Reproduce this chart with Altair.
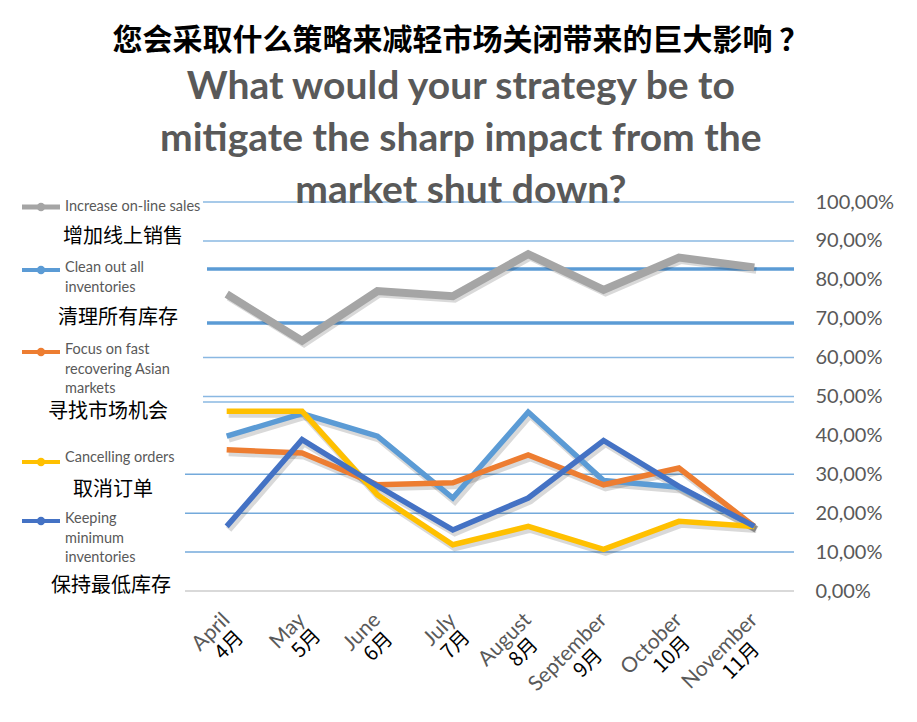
import altair as alt
import pandas as pd

# ---------------- data ----------------
months_en = ["April", "May", "June", "July", "August", "September", "October", "November"]
months_zh = ["4月", "5月", "6月", "7月", "8月", "9月", "10月", "11月"]

series_en = ["Increase on-line sales", "Clean out all inventories",
             "Focus on fast recovering Asian markets", "Cancelling orders",
             "Keeping minimum inventories"]
series_zh = ["增加线上销售", "清理所有库存", "寻找市场机会", "取消订单", "保持最低库存"]
legend_lines = [["Increase on-line sales"],
                ["Clean out all", "inventories"],
                ["Focus on fast", "recovering Asian", "markets"],
                ["Cancelling orders"],
                ["Keeping", "minimum", "inventories"]]

online_sales  = [0.763, 0.643, 0.771, 0.758, 0.866, 0.774, 0.857, 0.832]
clean_out     = [0.398, 0.456, 0.398, 0.239, 0.460, 0.284, 0.267, 0.166]
asian_markets = [0.363, 0.355, 0.273, 0.278, 0.350, 0.273, 0.316, 0.166]
cancelling    = [0.462, 0.462, 0.247, 0.119, 0.166, 0.107, 0.179, 0.166]
keeping_min   = [0.166, 0.389, 0.270, 0.157, 0.239, 0.387, 0.269, 0.166]
series_values = [online_sales, clean_out, asian_markets, cancelling, keeping_min]

y_ticks = [0.0, 0.1, 0.2, 0.3, 0.4, 0.5, 0.6, 0.7, 0.8, 0.9, 1.0]
grid_upper = [1.0, 0.9, 0.6, 0.5, 0.486]
grid_lower = [0.3, 0.2, 0.1]
grid_bold = [0.828, 0.689]

title_zh = "您会采取什么策略来减轻市场关闭带来的巨大影响 ？"
title_en = ["What would your strategy be to", "mitigate the sharp impact from the", "market shut down?"]

# ---------------- style / layout ----------------
colors = ["#a5a5a5", "#5b9bd5", "#ed7d31", "#ffc000", "#4472c4"]
widths = [8, 5.5, 5.5, 5.5, 5.5]
PLOT_W, PLOT_H = 603, 389
LEG_W = 181
sym_y = [5, 68, 150, 260, 319]
eng_y0 = [5, 66, 148, 256, 317]
eng_step = 19.5
zh_y = [35, 116, 210, 288, 384]
zh_cx = [115, 110, 100, 105, 103]

XFS = 21
ZFS = 20


def est_width(s, fs):
    w = 0.0
    for ch in s:
        if ch in "ilj":
            w += 0.24
        elif ch in "frt":
            w += 0.36
        elif ch in "mw":
            w += 0.82
        elif ch.isupper():
            w += 0.68
        else:
            w += 0.54
    return w * fs


rows = []
for name, vals in zip(series_en, series_values):
    for m, v in zip(months_en, vals):
        rows.append({"series": name, "month": m, "value": v})
df = pd.DataFrame(rows)

x_enc = alt.X("month:N", scale=alt.Scale(type="point", domain=months_en, padding=0.5), axis=None)
y_scale = alt.Scale(domain=[0, 1], nice=False, zero=True)
yax = alt.Axis(orient="right", values=y_ticks,
               labelExpr="replace(format(datum.value, '.2%'), '.', ',')",
               labelFont="Lato", labelFontSize=20, labelColor="#595959",
               labelPadding=23, ticks=False, domain=False, grid=False,
               title=None, labelAlign="left", labelBaseline="middle")


def Y(field):
    return alt.Y(field, scale=y_scale, axis=yax)


layers = []
# gridlines
layers.append(alt.Chart(pd.DataFrame({"v": grid_upper})).mark_rule(color="#8ab8e2", strokeWidth=1.5).encode(
    y=Y("v:Q"), x=alt.value(14), x2=alt.value(PLOT_W + 2)))
layers.append(alt.Chart(pd.DataFrame({"v": grid_lower})).mark_rule(color="#74aadb", strokeWidth=1.5).encode(
    y=Y("v:Q"), x=alt.value(-4), x2=alt.value(PLOT_W + 2)))
layers.append(alt.Chart(pd.DataFrame({"v": grid_bold})).mark_rule(color="#5b9bd5", strokeWidth=3.5).encode(
    y=Y("v:Q"), x=alt.value(18), x2=alt.value(PLOT_W + 2)))
layers.append(alt.Chart(pd.DataFrame({"v": [0.0]})).mark_rule(color="#d9d9d9", strokeWidth=2).encode(
    y=Y("v:Q"), x=alt.value(-4), x2=alt.value(PLOT_W + 2)))

# shadows
layers.append(alt.Chart(df).mark_line(color="black", opacity=0.15, strokeWidth=7, xOffset=2, yOffset=3).encode(
    x=x_enc, y=Y("value:Q"), detail="series:N"))

# series lines
for name, col, sw in zip(series_en, colors, widths):
    layers.append(alt.Chart(df).transform_filter(alt.datum.series == name).mark_line(
        color=col, strokeWidth=sw).encode(x=x_enc, y=Y("value:Q")))

# x labels
lab_df = pd.DataFrame({"month": months_en, "zh": months_zh})
layers.append(alt.Chart(lab_df).mark_text(angle=315, align="right", baseline="middle", font="Lato",
                                          fontSize=XFS, color="#595959").encode(
    x=x_enc, y=alt.value(PLOT_H + 26), text="month:N"))
for m in months_en:
    w = est_width(m, XFS)
    layers.append(alt.Chart(lab_df).transform_filter(alt.datum.month == m).mark_text(
        angle=315, align="center", baseline="middle", dx=-0.42 * w, dy=22,
        font="Noto Sans CJK SC", fontSize=ZFS, color="black").encode(
        x=x_enc, y=alt.value(PLOT_H + 26), text="zh:N"))

main = alt.layer(*layers).properties(width=PLOT_W, height=PLOT_H)

# ---------------- legend panel ----------------
sym_df = pd.DataFrame({"series": series_en, "color": colors, "y": sym_y,
                       "sw": [5, 4, 4, 4, 4]})
eng_rows = []
for lines, y0 in zip(legend_lines, eng_y0):
    for k, t in enumerate(lines):
        eng_rows.append({"t": t, "y": y0 + k * eng_step})
eng_df = pd.DataFrame(eng_rows)
zh_df = pd.DataFrame({"t": series_zh, "y": zh_y, "x": zh_cx})

py = alt.Y("y:Q", scale=None, axis=None)
leg_layers = [
    alt.Chart(sym_df).mark_rule().encode(
        y=py, x=alt.value(14), x2=alt.value(52),
        color=alt.Color("color:N", scale=None),
        strokeWidth=alt.StrokeWidth("sw:Q", scale=None)),
    alt.Chart(sym_df).mark_circle(size=70, opacity=1).encode(
        y=py, x=alt.value(33), color=alt.Color("color:N", scale=None)),
    alt.Chart(eng_df).mark_text(align="left", baseline="middle", font="Lato", fontSize=14.5,
                                color="#595959").encode(y=py, x=alt.value(57), text="t:N"),
    alt.Chart(zh_df).mark_text(align="center", baseline="middle", font="Noto Sans CJK SC",
                               fontSize=20, color="black").encode(
        y=py, x=alt.X("x:Q", scale=None, axis=None), text="t:N"),
]
legend = alt.layer(*leg_layers).properties(width=LEG_W, height=PLOT_H)

chart = alt.hconcat(legend, main, spacing=0, bounds="flush").properties(
    title=alt.TitleParams(
        text=title_zh, subtitle=title_en, anchor="middle", dx=10,
        font="Noto Sans CJK SC", fontSize=30, fontWeight="bold", color="#000000",
        subtitleFont="Lato", subtitleFontSize=39, subtitleFontWeight="bold",
        subtitleColor="#595959", subtitleLineHeight=52, subtitlePadding=12, offset=-19),
    padding={"left": 0, "top": 18, "right": 0, "bottom": 0},
).configure_view(stroke=None)

chart.save("out.html", embed_options={"renderer": "svg", "actions": False})
